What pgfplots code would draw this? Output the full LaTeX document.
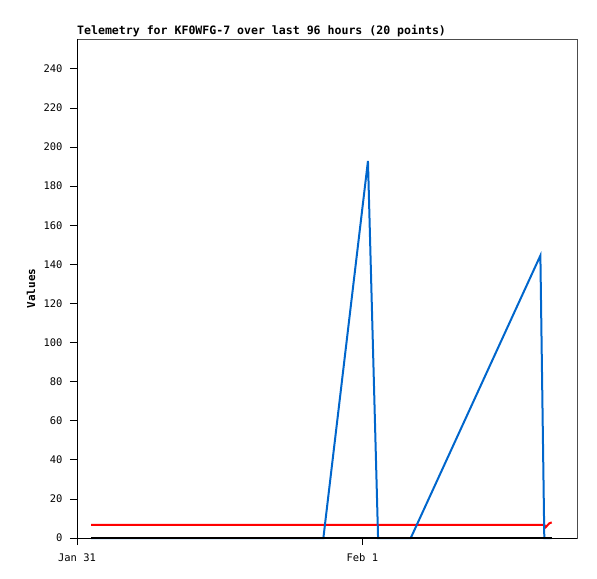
\documentclass[border=0pt]{standalone}
\usepackage{pgfplots}
\pgfplotsset{compat=1.18}
\usepackage{fontspec}
\setmainfont{DejaVu Sans Mono}
\definecolor{tblue}{RGB}{0,102,204}
\begin{document}
\begin{tikzpicture}
\begin{axis}[
  at={(0,0)}, anchor=south west,
  scale only axis, width=500bp, height=499bp,
  xmin=0, xmax=42.05, ymin=0, ymax=255.3,
  xtick={0,24}, xticklabels={Jan 31,Feb 1},
  ytick={0,20,...,240},
  xtick pos=lower, ytick pos=left,
  tick align=outside, major tick length=7bp,
  tick style={black, line width=0.8bp},
  axis line style={black!70, line width=0.8bp},
  ticklabel style={font=\fontsize{10.5}{12}\selectfont},
  yticklabel style={xshift=-4bp},
  xticklabel style={yshift=-5bp},
  /pgf/number format/assume math mode=true,
  clip=false,
  title={Telemetry for KF0WFG-7 over last 96 hours (20 points)},
  every axis title/.style={at={(rel axis cs:0,1)}, anchor=base west, yshift=4bp, inner sep=0pt, font=\fontsize{11.6}{13}\selectfont\bfseries},
  ylabel={Values},
  every axis y label/.style={at={(rel axis cs:0,0.5)}, xshift=-46bp, anchor=center, rotate=90, inner sep=0pt, font=\fontsize{11}{13}\selectfont\bfseries},
]
\addplot[red, line width=2bp] coordinates {
 (1.18,6.7) (39.30,6.7) (39.42,5.5) (39.70,7.4) (39.92,8.0)
};
\addplot[tblue, line width=2bp] coordinates {
 (1.18,0) (20.72,0) (24.47,192.9) (25.32,0) (28.07,0) (38.97,144.5) (39.30,0) (39.92,0)
};
\addplot[black, line width=2bp] coordinates {
 (1.18,0) (39.92,0)
};
\draw[black, line width=0.8bp] (rel axis cs:0,1) -- (rel axis cs:0,0) -- (rel axis cs:1,0);
\end{axis}
\pgfresetboundingbox
\useasboundingbox (-77bp,-41bp) rectangle (520bp,538bp);
\end{tikzpicture}
\end{document}
